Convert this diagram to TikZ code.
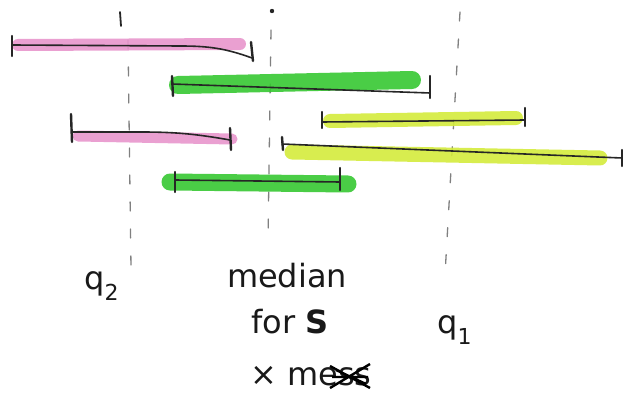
\documentclass[tikz,border=0pt]{standalone}
\usepackage{fontspec}
\setmainfont{DejaVu Sans}
\begin{document}
\begin{tikzpicture}[x=1pt,y=-1pt,
  hl/.style={line width=#1, line cap=round, opacity=0.9},
  ink/.style={line width=1.6pt, black!85, line cap=round},
  tick/.style={line width=2.4pt, black!85, line cap=round},
  guide/.style={line width=1.3pt, black!50, dash pattern=on 9pt off 18pt, line cap=round},
  lbl/.style={font=\fontsize{32}{36}\selectfont, inner sep=0pt, black!90}]
\definecolor{pinkhl}{RGB}{232,150,205}
\definecolor{greenhl}{RGB}{55,200,50}
\definecolor{yellowhl}{RGB}{212,236,60}
\useasboundingbox (0,0) rectangle (625,404);
\fill[white] (0,0) rectangle (625,404);

% guide lines
\coordinate (g1t) at (128,40); \coordinate (g1b) at (131,268);
\coordinate (g2t) at (271,30); \coordinate (g2b) at (268,240);
\coordinate (g3t) at (460,12); \coordinate (g3b) at (445,275);
\draw[guide] (g1t) -- (g1b);
\draw[guide] (g2t) -- (g2b);
\draw[guide] (g3t) -- (g3b);
\draw[tick,line width=1.8pt] (120,12) -- (121,26);
\fill[black!85] (272,11) circle (2.2);

% bar 1 pink
\coordinate (a1) at (12,45); \coordinate (b1) at (252,58);
\draw[hl=12pt, pinkhl] (18,45) -- (240,44);
\draw[ink] (a1) -- (180,46) to[out=0,in=160] (b1);
\draw[tick] (12,36) -- (12,56); \draw[tick] (251,42) -- (253,61);

% bar 2 green
\coordinate (a2) at (172,84); \coordinate (b2) at (430,93);
\draw[hl=18pt, greenhl] (178,85) -- (412,80);
\draw[ink] (a2) -- (b2);
\draw[tick] (172,76) -- (173,96); \draw[tick] (430,76) -- (430,98);

% bar 3 pink
\coordinate (a3) at (72,132); \coordinate (b3) at (230,140);
\draw[hl=11pt, pinkhl] (78,136) -- (232,139);
\draw[ink] (a3) -- (140,132) to[out=0,in=170] (b3);
\draw[tick] (71,114) -- (72,142); \draw[tick] (230,128) -- (231,150);

% bar 4 yellow
\coordinate (a4) at (322,122); \coordinate (b4) at (525,120);
\draw[hl=14pt, yellowhl] (330,121) -- (516,118);
\draw[ink] (a4) -- (b4);
\draw[tick] (322,112) -- (322,128); \draw[tick] (525,108) -- (525,126);

% bar 5 yellow
\coordinate (a5) at (282,144); \coordinate (b5) at (622,158);
\draw[hl=15pt, yellowhl] (292,152) -- (600,158);
\draw[ink] (a5) -- (b5);
\draw[tick] (282,137) -- (283,150); \draw[tick] (622,150) -- (622,166);

% bar 6 green
\coordinate (a6) at (175,180); \coordinate (b6) at (340,182);
\draw[hl=17pt, greenhl] (170,182) -- (348,184);
\draw[ink] (a6) -- (b6);
\draw[tick] (175,172) -- (175,192); \draw[tick] (340,168) -- (340,190);

% labels
\node[lbl, anchor=west] (q2) at (84,286) {q\raisebox{-0.35em}{\fontsize{22}{24}\selectfont 2}};
\node[lbl, anchor=west] (q1) at (437,330) {q\raisebox{-0.35em}{\fontsize{22}{24}\selectfont 1}};
\node[lbl] (med) at (287,276) {median};
\node[lbl] (for) at (290,322) {for \textbf{S}};
\node[lbl, anchor=west] (mess) at (250,376) {× mess};
\draw[line width=2.4pt, black] (330,366) -- (370,388) (330,388) -- (370,364) (332,377) -- (368,377) (336,370) -- (366,384);
\end{tikzpicture}
\end{document}
